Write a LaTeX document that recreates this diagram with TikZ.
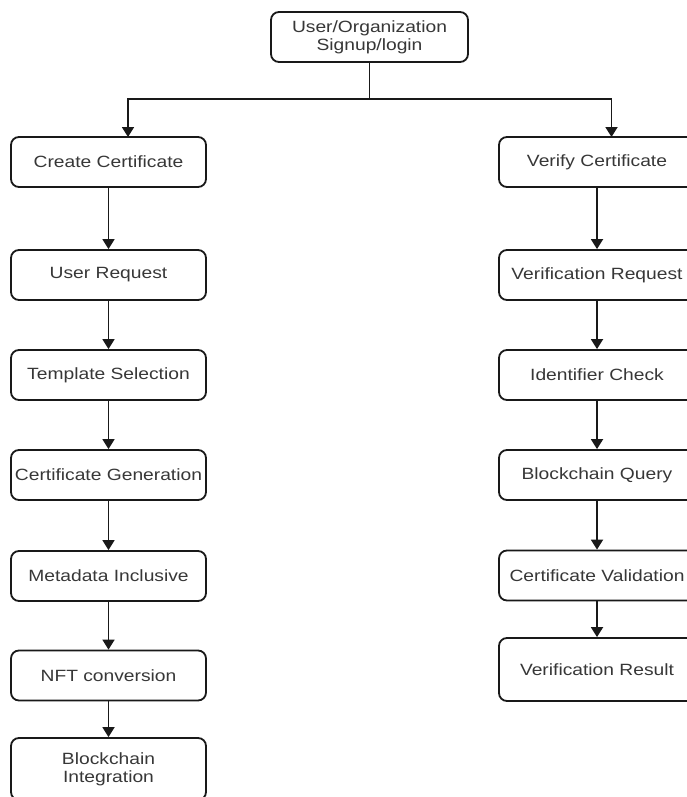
\documentclass[tikz,border=0pt]{standalone}
\usepackage{fontspec}
\setmainfont{Liberation Sans}[FakeStretch=1.18]
\usetikzlibrary{arrows.meta}
\definecolor{txt}{RGB}{55,55,55}
\definecolor{ln}{RGB}{25,25,25}
\tikzset{
  box/.style={draw=ln, line width=1.8pt, rounded corners=8pt, fill=white,
    text=txt, align=center, inner sep=0pt,
    font=\fontsize{16.3}{18}\selectfont},
  lbox/.style={box, minimum width=195pt, minimum height=50pt},
  rbox/.style={box, minimum width=196pt, minimum height=50pt},
  arr/.style={draw=ln, line width=1.8pt, -{Triangle[width=12pt,length=10pt]}},
  ln/.style={draw=ln, line width=1.8pt}
}
\begin{document}
\begin{tikzpicture}[x=1pt,y=-1pt]
\clip (0,0) rectangle (687,797);
\fill[white] (0,0) rectangle (687,797);
\node[box, minimum width=197pt, minimum height=50pt] (top) at (369.5,37) {User/Organization\\Signup/login};
% left column
\node[lbox] (create) at (108.5,162) {Create Certificate};
\node[lbox] (ureq) at (108.5,275) {User Request};
\node[lbox] (tmpl) at (108.5,375) {Template Selection};
\node[lbox] (cgen) at (108.5,475) {Certificate Generation};
\node[lbox] (meta) at (108.5,576) {Metadata Inclusive};
\node[lbox] (nft) at (108.5,675.5) {NFT conversion};
\node[lbox, minimum height=62pt] (bint) at (108.5,769) {Blockchain\\Integration};
% right column
\node[rbox] (verify) at (597,162) {Verify Certificate};
\node[rbox] (vreq) at (597,275) {Verification Request};
\node[rbox] (idc) at (597,375) {Identifier Check};
\node[rbox] (bq) at (597,475) {Blockchain Query};
\node[rbox] (cval) at (597,575.5) {Certificate Validation};
\node[rbox, minimum height=63pt] (vres) at (597,669.5) {Verification Result};
% connectors
\coordinate (jn) at (369.5,99);
\coordinate (cl) at (128,137);
\coordinate (cr) at (611.5,137);
\draw[ln] (top.south) -- (jn);
\draw[arr] (jn) -| (cl);
\draw[arr] (jn) -| (cr);
\draw[arr] (create) -- (ureq);
\draw[arr] (ureq) -- (tmpl);
\draw[arr] (tmpl) -- (cgen);
\draw[arr] (cgen) -- (meta);
\draw[arr] (meta) -- (nft);
\draw[arr] (nft) -- (bint);
\draw[arr] (verify) -- (vreq);
\draw[arr] (vreq) -- (idc);
\draw[arr] (idc) -- (bq);
\draw[arr] (bq) -- (cval);
\draw[arr] (cval) -- (vres);
\end{tikzpicture}
\end{document}
